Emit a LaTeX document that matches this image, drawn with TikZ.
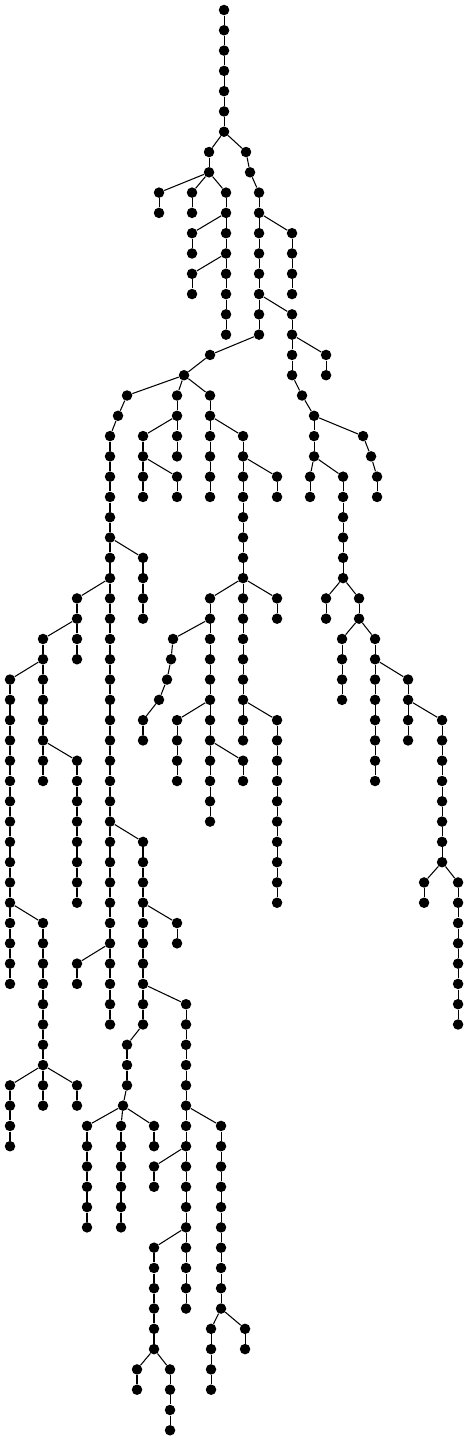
\documentclass[tikz,border=0pt]{standalone}
\usepackage{tikz}

\begin{document}
\begin{tikzpicture}[x=0.02cm, y=-0.4058cm,
    %Option for the tree
    dot/.style={circle, fill=black, inner sep=0pt, minimum size=0.21cm},
    edge/.style={line width=0.6pt},
]
    \useasboundingbox (0,-0.4929) rectangle (468,70.43);

    % Vertical chains: column / first level / last level
    \foreach \x/\a/\b in {224/0/6, 209/7/8, 246/7/7, 250/8/8, 159/9/10, 192/9/10,
        226/9/16, 259/9/16, 192/11/12, 192/13/14, 292/11/14, 292/15/18, 326/17/18,
        210/17/17, 184/18/18, 302/19/19, 314/20/22, 363/21/21, 371/22/22, 377/23/24,
        310/23/24, 343/23/28, 326/29/30, 359/29/30, 342/31/34, 375/31/38, 408/33/36,
        442/35/42, 424/43/44, 458/43/50,
        127/19/19, 118/20/20, 110/21/50, 177/19/22, 210/19/24, 143/21/24, 177/23/24,
        243/21/36, 277/23/24, 143/27/30, 77/29/32, 43/31/38, 10/33/48, 77/37/44,
        43/45/54, 10/53/56, 77/53/54, 143/41/50, 77/47/48, 177/45/46, 186/49/64,
        127/51/53, 123/54/54, 87/55/60, 121/55/60, 154/55/56, 154/57/58, 154/61/66,
        137/67/68, 170/67/70, 221/55/64, 211/65/68, 245/65/66,
        210/29/40, 277/29/30, 173/31/31, 171/32/32, 167/33/33, 159/34/34, 143/35/36,
        177/35/38, 243/37/38, 277/35/44}{
        \foreach \l in {\a,...,\b}{
            \node[dot] (n\x-\l) at (\x,\l) {};
            \ifnum\l>\a
                \pgfmathtruncatemacro\p{\l-1}
                \draw[edge] (n\x-\p) -- (n\x-\l);
            \fi
        }
    }

    % Branches: parent / child
    \foreach \p/\c in {224-6/209-7, 224-6/246-7, 246-7/250-8, 209-8/159-9, 209-8/192-9,
        209-8/226-9, 250-8/259-9, 226-10/192-11, 226-12/192-13, 259-10/292-11,
        259-14/292-15, 292-16/326-17, 259-16/210-17, 210-17/184-18, 292-18/302-19,
        302-19/314-20, 314-20/363-21, 363-21/371-22, 371-22/377-23, 314-22/310-23,
        314-22/343-23, 343-28/326-29, 343-28/359-29, 359-30/342-31, 359-30/375-31,
        375-32/408-33, 408-34/442-35, 442-42/424-43, 442-42/458-43,
        184-18/127-19, 127-19/118-20, 118-20/110-21, 184-18/177-19, 184-18/210-19,
        177-20/143-21, 143-22/177-23, 210-20/243-21, 243-22/277-23, 110-26/143-27,
        110-28/77-29, 77-30/43-31, 43-32/10-33, 43-36/77-37, 10-44/43-45,
        43-52/10-53, 43-52/77-53, 110-40/143-41, 110-46/77-47, 143-44/177-45,
        143-48/186-49, 143-50/127-51, 127-53/123-54, 123-54/87-55, 123-54/121-55,
        123-54/154-55, 186-56/154-57, 186-60/154-61, 154-66/137-67, 154-66/170-67,
        186-54/221-55, 221-64/211-65, 221-64/245-65,
        243-28/210-29, 243-28/277-29, 210-30/173-31, 173-31/171-32, 171-32/167-33,
        167-33/159-34, 159-34/143-35, 210-34/177-35, 210-36/243-37, 243-34/277-35}
        \draw[edge] (n\p) -- (n\c);
\end{tikzpicture}
\end{document}
